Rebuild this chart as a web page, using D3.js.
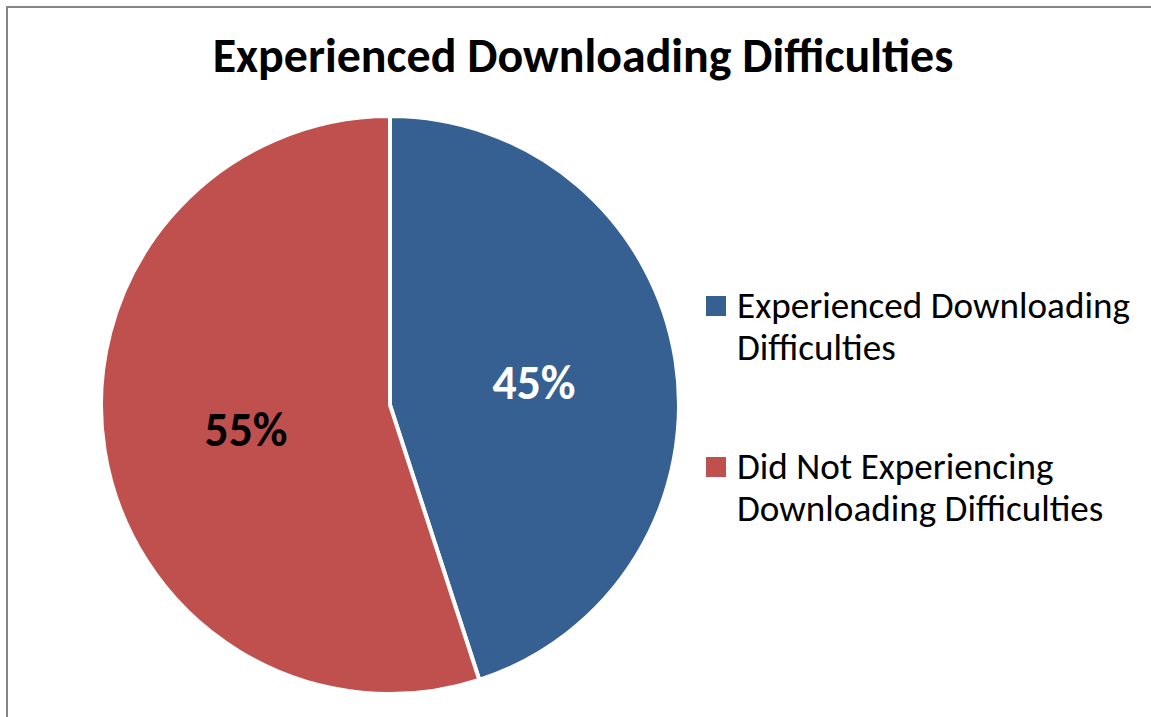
<!DOCTYPE html>
<html><head><meta charset="utf-8">
<script src="https://cdn.jsdelivr.net/npm/d3@7"></script>
<style>body{margin:0;background:#fff}svg{display:block}</style>
</head><body>
<svg id="c" width="1151" height="717"></svg>
<script>
const title = "Experienced Downloading Difficulties";
const categories = ["Experienced Downloading Difficulties", "Did Not Experiencing Downloading Difficulties"];
const legendLines = [["Experienced Downloading", "Difficulties"], ["Did Not Experiencing", "Downloading Difficulties"]];
const values = [45, 55];
const colors = ["#366092", "#C0504D"];
const labelColors = ["#ffffff", "#000000"];

const svg = d3.select("#c");
const W = 1151, H = 717;
svg.append("rect").attr("x", 7).attr("y", 7).attr("width", W + 20).attr("height", H + 20)
  .attr("fill", "#fff").attr("stroke", "#868686").attr("stroke-width", 2);

const font = "Carlito, Calibri, 'Open Sans', sans-serif";
function fit(sel, target) {
  const w = sel.node().getComputedTextLength();
  const fs = parseFloat(sel.attr("font-size"));
  return fs * target / w;
}

const t = svg.append("text").attr("x", 583).attr("y", 72).attr("text-anchor", "middle")
  .attr("font-family", font).attr("font-weight", "bold").attr("font-size", 36)
  .attr("fill", "#000").text(title);
t.attr("font-size", fit(t, 741));

const cx = 390, cy = 405, R = 289;
const pie = d3.pie().sort(null).value(d => d)(values);
const arc = d3.arc().innerRadius(0).outerRadius(R);
const g = svg.append("g").attr("transform", `translate(${cx},${cy})`);
g.selectAll("path").data(pie).join("path").attr("d", arc)
  .attr("fill", (d, i) => colors[i]).attr("stroke", "#fff").attr("stroke-width", 4).attr("stroke-linejoin", "miter");

const labelPos = [[144, -6], [-144, 41]];
const lbls = g.selectAll("text.lbl").data(pie).join("text").attr("class", "lbl")
  .attr("x", (d, i) => labelPos[i][0]).attr("y", (d, i) => labelPos[i][1])
  .attr("text-anchor", "middle").attr("font-family", font).attr("font-weight", "bold").attr("font-size", 36)
  .attr("fill", (d, i) => labelColors[i]).text(d => d.data + "%");
const lfs = fit(d3.select(lbls.nodes()[0]), 83);
lbls.attr("font-size", lfs);

const lg = svg.append("g");
const ly = [296, 457];
const probe = lg.append("text").attr("font-family", font).attr("font-size", 31).text(legendLines[0][0]);
const legFs = fit(probe, 393);
probe.remove();
categories.forEach((c, i) => {
  lg.append("rect").attr("x", 706).attr("y", ly[i]).attr("width", 20).attr("height", 20).attr("fill", colors[i]);
  legendLines[i].forEach((tx, j) => {
    lg.append("text").attr("x", 737).attr("y", ly[i] + 22 + j * 42)
      .attr("font-family", font).attr("font-size", legFs).attr("fill", "#000").text(tx);
  });
});
</script>
</body></html>
